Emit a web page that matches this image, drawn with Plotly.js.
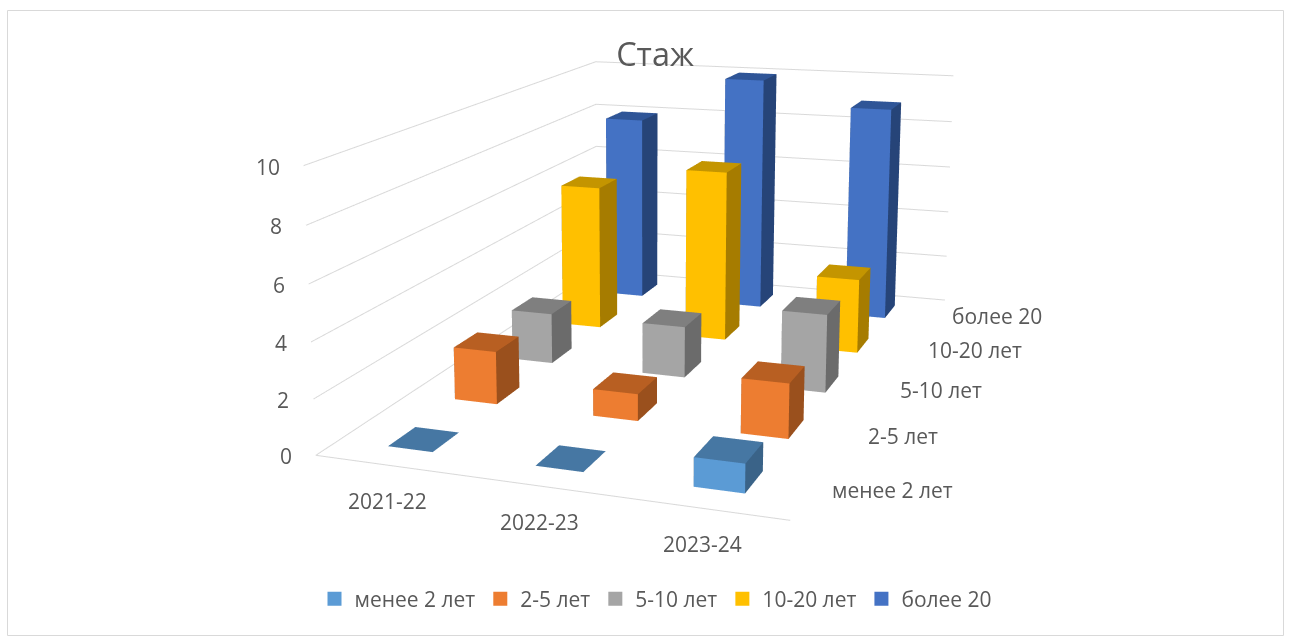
<!DOCTYPE html>
<html><head><meta charset="utf-8">
<script src="https://cdn.plot.ly/plotly-3.0.1.min.js"></script>
<style>html,body{margin:0;padding:0;background:#fff}#c{width:1291px;height:638px}</style>
</head><body><div id="c"></div>
<script>
const years = ['2021-22','2022-23','2023-24'];
const groups = ['менее 2 лет','2-5 лет','5-10 лет','10-20 лет','более 20'];
const under2 = [0,0,1];
const from2to5 = [2,1,2];
const from5to10 = [2,2,3];
const from10to20 = [6,7,3];
const over20 = [8,10,9];
const seriesValues = [under2,from2to5,from5to10,from10to20,over20];
const zTicks = [0,2,4,6,8,10];
const frontColors = ['#5B9BD5','#ED7D31','#A5A5A5','#FFC000','#4472C4'];
const topColors = ['#4677A3','#B85F22','#7F7F7F','#C49500','#2F5597'];
const sideColors = ['#3A6388','#9A501D','#6B6B6B','#A67C00','#264478'];

// Oblique 3D projection of the reference: category/series/value -> scene coordinates
const S = 3, E = 4;
const O = [-0.428,1,-0.177], U = [0.5966,-0.103,-0.0575], V = [0.3392,0.409,0.2666], W = [0,-0.036,0.369];
function place(u,v,z){
  const a=u/3,b=v/5,c=z/10;
  return [S*(O[0]+a*U[0]+b*V[0]+c*W[0]), S*(O[1]+a*U[1]+b*V[1]+c*W[1])-E, S*(O[2]+a*U[2]+b*V[2]+c*W[2])];
}
const BW=0.31, BD=0.39;
function barMesh(vals,row,idx){
  const X=[],Y=[],Z=[],I=[],J=[],K=[],FC=[];
  vals.forEach((val,col)=>{
    const b=X.length, u0=col+.5-BW/2,u1=col+.5+BW/2,v0=row+.5-BD/2,v1=row+.5+BD/2;
    [[u0,v0,0],[u1,v0,0],[u1,v1,0],[u0,v1,0],[u0,v0,val],[u1,v0,val],[u1,v1,val],[u0,v1,val]].forEach(p=>{
      const q=place(p[0],p[1],p[2]);X.push(q[0]);Y.push(q[1]);Z.push(q[2]);});
    const quad=(a,c,d,e,col2)=>{I.push(b+a,b+a);J.push(b+c,b+d);K.push(b+d,b+e);FC.push(col2,col2);};
    if(val>0){
      quad(0,1,5,4,frontColors[idx]);
      quad(1,2,6,5,sideColors[idx]);
      quad(3,0,4,7,sideColors[idx]);
      quad(2,3,7,6,sideColors[idx]);
    }
    quad(4,5,6,7,topColors[idx]);
  });
  return {type:'mesh3d',x:X,y:Y,z:Z,i:I,j:J,k:K,facecolor:FC,flatshading:true,showlegend:false,hoverinfo:'skip',
    lighting:{ambient:1,diffuse:0,specular:0,roughness:1,fresnel:0}};
}
function line(pts){
  const q=pts.map(p=>place(p[0],p[1],p[2]));
  return {type:'scatter3d',mode:'lines',x:q.map(a=>a[0]),y:q.map(a=>a[1]),z:q.map(a=>a[2]),
    line:{color:'#D9D9D9',width:2},showlegend:false,hoverinfo:'skip'};
}
const traces=[];
zTicks.forEach(z=>traces.push(line([[0,0,z],[0,5,z],[3,5,z]])));
traces.push(line([[0,5,0],[0,0,0],[3,0,0]]));
seriesValues.forEach((vals,r)=>traces.push(barMesh(vals,r,r)));
groups.forEach((g,r)=>{
  const q=place(1.5,2.5,0);
  traces.push({type:'scatter3d',mode:'markers',x:[q[0]],y:[q[1]],z:[null],name:g,showlegend:true,hoverinfo:'skip',
    marker:{symbol:'square',size:14,color:frontColors[r]}});
});
const font={family:'"Open Sans",sans-serif',size:21,color:'#595959'};
const ann=[];
function label(text,p,xshift,yshift,xanchor){
  const q=place(p[0],p[1],p[2]);
  ann.push({x:q[0],y:q[1],z:q[2],text:text,showarrow:false,font:font,xanchor:xanchor,yanchor:'middle',xshift:xshift,yshift:yshift});
}
zTicks.forEach(z=>label(String(z),[0,0,z],-22,-1,'right'));
years.forEach((t,c)=>label(t,[c+.5,0,0],-1,-36,'center'));
const rowShift=[18,16,16,16,16];
groups.forEach((t,r)=>label(t,[3,r+.5,0],rowShift[r],0,'left'));

const layout={width:1291,height:638,margin:{l:0,r:0,t:0,b:0},paper_bgcolor:'#fff',
  title:{text:'Стаж',x:655/1291,y:1-55/638,xanchor:'center',yanchor:'middle',font:{family:'"Open Sans",sans-serif',size:32.5,color:'#595959'}},
  showlegend:true,
  legend:{orientation:'h',x:656/1291,xanchor:'center',y:1-599/638,yanchor:'middle',font:font,bgcolor:'rgba(0,0,0,0)'},
  shapes:[{type:'rect',xref:'paper',yref:'paper',x0:7.5/1291,x1:1283.5/1291,y0:1-635.5/638,y1:1-10.5/638,line:{color:'#D9D9D9',width:1}}],
  scene:{domain:{x:[0,1],y:[0,1]},aspectmode:'manual',aspectratio:{x:1,y:1,z:1},
    xaxis:{visible:false,range:[-4,4]},yaxis:{visible:false,range:[-4,4]},zaxis:{visible:false,range:[-4,4]},
    camera:{eye:{x:0,y:-E/8,z:0},center:{x:0,y:0,z:0},up:{x:0,y:0,z:1},projection:{type:'perspective'}},
    annotations:ann}
};
Plotly.newPlot('c',traces,layout,{displayModeBar:false});
</script></body></html>
